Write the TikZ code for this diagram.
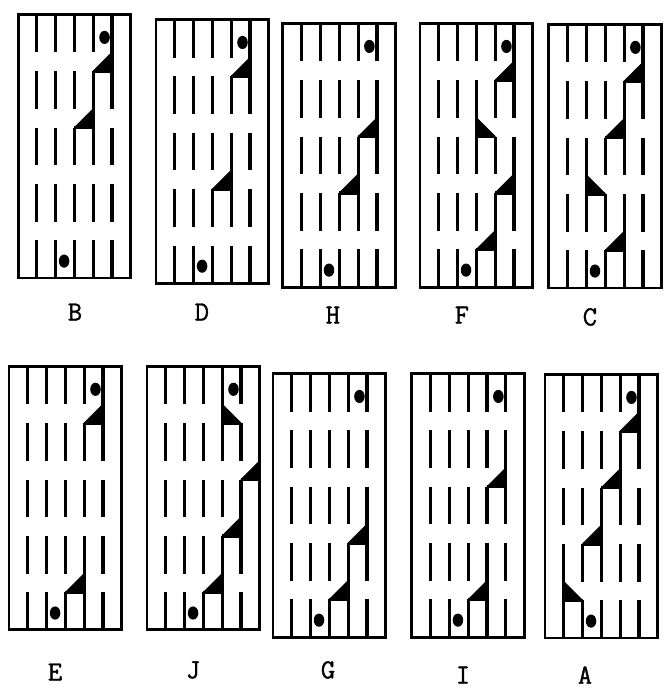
\documentclass[tikz,border=0pt]{standalone}
\usepackage{fontspec}
\newfontfamily\panelfont[FakeBold=1.2]{Latin Modern Mono}
\usepackage{tikz}
\usetikzlibrary{positioning}

\begin{document}
\begin{tikzpicture}[
  x=0.5cm, y=0.5cm,
  frame/.style={draw, line width=2.2pt},
  bar/.style={line width=2.4pt},
  ramp/.style={fill=black, draw, line width=0.8pt, line join=round},
  ball/.style={fill=black},
  letter/.style={font=\fontsize{21}{23}\selectfont\panelfont}
]
\useasboundingbox (0,0) rectangle (35.64,37.13);

% name / panel origin / label position / ramps (vertical side, other end, gap)
\foreach \name/\px/\py/\lx/\ly/\ramps in {
  B/0.96/22.34/3.99/20.53/{5/4/1,4/3/2},
  D/8.30/22.07/10.74/20.53/{5/4/1,4/3/3},
  H/15.05/21.86/17.71/20.37/{5/4/2,4/3/3},
  F/22.34/21.86/24.57/20.37/{5/4/1,3/4/2,5/4/3,4/3/4},
  C/29.20/21.81/31.38/20.27/{5/4/1,4/3/2,2/3/3,4/3/4},
  E/0.48/3.62/2.93/1.38/{5/4/1,4/3/4},
  J/7.82/3.62/10.27/1.49/{4/5/1,6/5/2,5/4/3,4/3/4},
  G/14.52/3.24/17.45/1.49/{5/4/3,4/3/4},
  I/21.91/3.24/24.63/1.22/{5/4/2,4/3/4},
  A/28.99/3.19/31.12/1.22/{5/4/1,4/3/2,3/2/3,1/2/4}}
{
  \begin{scope}[shift={(\px,\py)}]
    \draw[frame] (0,0) rectangle (6,14);
    \foreach \row in {0,...,4}
      \foreach \col in {1,...,5}
        \draw[bar] (\col,{14-3*\row}) -- (\col,{12-3*\row});
    \foreach \a/\b/\g in \ramps {
      \filldraw[ramp] (\a,{15-3*\g}) -- (\a,{14-3*\g}) -- (\b,{14-3*\g}) -- cycle;
      \draw[bar] (\a,{15-3*\g}) -- (\a,{14-3*\g}) -- (\b,{14-3*\g});
    }
    \fill[ball] (4.6,12.8) ellipse [x radius=0.28, y radius=0.35];
    \fill[ball] (2.45,0.9) ellipse [x radius=0.28, y radius=0.35];
  \end{scope}
  \node[letter] (lab\name) at (\lx,\ly) {\name};
}
\end{tikzpicture}
\end{document}
